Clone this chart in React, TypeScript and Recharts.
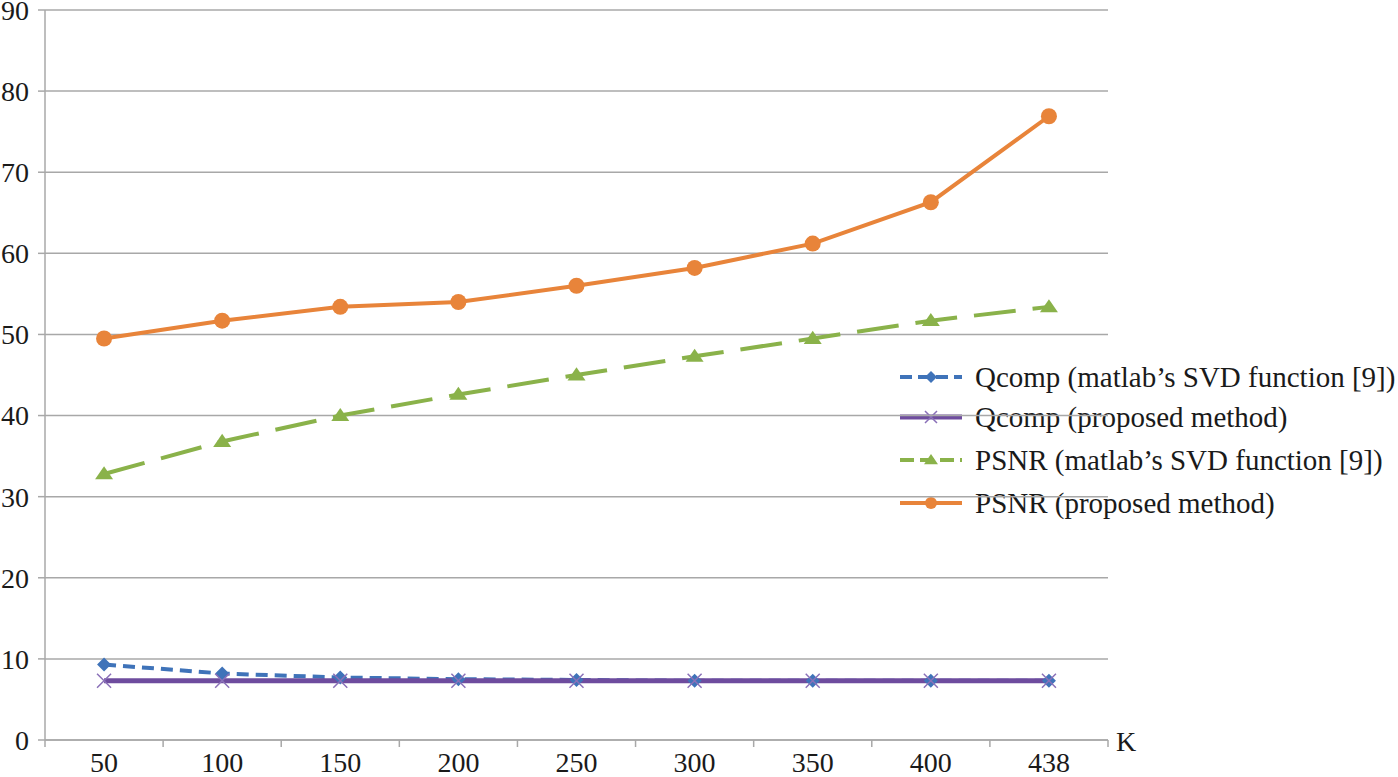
import React from 'react';
import { LineChart, Line, XAxis, YAxis, CartesianGrid } from 'recharts';

const categories = ['50', '100', '150', '200', '250', '300', '350', '400', '438'];
const qcompMatlab = [9.3, 8.2, 7.7, 7.5, 7.4, 7.3, 7.3, 7.3, 7.3];
const qcompProposed = [7.3, 7.3, 7.3, 7.3, 7.3, 7.3, 7.3, 7.3, 7.3];
const psnrMatlab = [32.8, 36.8, 40.0, 42.6, 45.0, 47.3, 49.5, 51.7, 53.4];
const psnrProposed = [49.5, 51.7, 53.4, 54.0, 56.0, 58.2, 61.2, 66.3, 76.9];
const yTicks = [0, 10, 20, 30, 40, 50, 60, 70, 80, 90];

const seriesNames = [
  'Qcomp (matlab\u2019s SVD function [9])',
  'Qcomp (proposed method)',
  'PSNR (matlab\u2019s SVD function [9])',
  'PSNR (proposed method)',
];

const data = categories.map((k, i) => ({
  k,
  qm: qcompMatlab[i],
  qp: qcompProposed[i],
  pm: psnrMatlab[i],
  pp: psnrProposed[i],
}));

const FONT = '"Liberation Serif", "Times New Roman", serif';
const BLUE = '#3F73B9';
const PURPLE = '#6E4C9E';
const GREEN = '#8AB24A';
const ORANGE = '#E8843A';
const GRID = '#A8A8A8';

const W = 1398;
const H = 777;
const M = { top: 10, right: 290, bottom: 0, left: 0 };
const YW = 45;
const XH = 37;
const plotW = W - M.left - M.right - YW;
const band = plotW / categories.length;

const Diamond = ({ cx, cy, color, s = 7 }: any) =>
  cx == null ? null : (
    <path d={`M${cx},${cy - s}L${cx + s},${cy}L${cx},${cy + s}L${cx - s},${cy}Z`} fill={color} />
  );
const Cross = ({ cx, cy, color, s = 7 }: any) =>
  cx == null ? null : (
    <path d={`M${cx - s},${cy - s}L${cx + s},${cy + s}M${cx - s},${cy + s}L${cx + s},${cy - s}`} stroke={color} strokeWidth={1.5} fill="none" />
  );
const Tri = ({ cx, cy, color, s = 9 }: any) =>
  cx == null ? null : (
    <path d={`M${cx},${cy - s * 0.85}L${cx + s},${cy + s * 0.6}L${cx - s},${cy + s * 0.6}Z`} fill={color} />
  );
const Circ = ({ cx, cy, color, r = 8 }: any) =>
  cx == null ? null : <circle cx={cx} cy={cy} r={r} fill={color} />;

const XTick = (props: any) => {
  const { x, y, payload, index } = props;
  const last = index === categories.length - 1;
  return (
    <g>
      <line x1={x - band / 2} y1={y} x2={x - band / 2} y2={y + 7} stroke={GRID} strokeWidth={1.5} />
      {last && <line x1={x + band / 2} y1={y} x2={x + band / 2} y2={y + 7} stroke={GRID} strokeWidth={1.5} />}
      <text x={x} y={y + 22} textAnchor="middle" dominantBaseline="central" fontFamily={FONT} fontSize={28} fill="#1a1a1a">
        {payload.value}
      </text>
    </g>
  );
};

const legendItems = [
  { name: seriesNames[0], color: BLUE, dash: '12 6', width: 4, marker: 'diamond' },
  { name: seriesNames[1], color: PURPLE, dash: undefined, width: 5, marker: 'cross' },
  { name: seriesNames[2], color: GREEN, dash: '14 6', width: 4, marker: 'tri' },
  { name: seriesNames[3], color: ORANGE, dash: undefined, width: 4, marker: 'circle' },
];
const legendRows = [377, 417, 460, 503];

const LegendBox = () => (
  <svg width={W} height={H} style={{ position: 'absolute', left: 0, top: 0 }}>
    {legendItems.map((it, i) => {
      const cy = legendRows[i];
      const cx = 931;
      return (
        <g key={it.name}>
          <line x1={900} y1={cy} x2={962} y2={cy} stroke={it.color} strokeWidth={it.width} strokeDasharray={it.dash} />
          {it.marker === 'diamond' && <Diamond cx={cx} cy={cy} color={it.color} s={6} />}
          {it.marker === 'cross' && <Cross cx={cx} cy={cy} color="#8A70B8" s={6} />}
          {it.marker === 'tri' && <Tri cx={cx} cy={cy} color={it.color} s={7} />}
          {it.marker === 'circle' && <Circ cx={cx} cy={cy} color={it.color} r={6} />}
          <text x={975} y={cy} dominantBaseline="central" fontFamily={FONT} fontSize={29} fill="#1a1a1a">
            {it.name}
          </text>
        </g>
      );
    })}
  </svg>
);

export default function App() {
  return (
    <div style={{ position: 'absolute', left: 0, top: 0, width: W, height: H, background: '#fff' }}>
      <LegendBox />
      <div style={{ position: 'absolute', left: 0, top: 0 }}>
        <LineChart width={W} height={H} data={data} margin={M}>
          <CartesianGrid horizontal vertical={false} stroke={GRID} strokeWidth={1.5} />
          <XAxis
            dataKey="k"
            height={XH}
            padding={{ left: band / 2, right: band / 2 }}
            axisLine={{ stroke: GRID, strokeWidth: 1.5 }}
            tickLine={false}
            tickSize={0}
            tickMargin={0}
            interval={0}
            tick={<XTick />}
            label={{
              content: (p: any) => {
                const vb = p.viewBox || {};
                return (
                  <text x={vb.x + vb.width + 8} y={vb.y + 1} dominantBaseline="central" fontFamily={FONT} fontSize={28} fill="#1a1a1a">
                    K
                  </text>
                );
              },
            }}
          />
          <YAxis
            width={YW}
            domain={[0, 90]}
            ticks={yTicks}
            interval={0}
            axisLine={{ stroke: GRID, strokeWidth: 1.5 }}
            tickLine={{ stroke: GRID, strokeWidth: 1.5 }}
            tickSize={7}
            tickMargin={9}
            tick={{ fontFamily: FONT, fontSize: 28, fill: '#1a1a1a' }}
          />
          <Line
            name={seriesNames[0]}
            dataKey="qm"
            stroke={BLUE}
            strokeWidth={4}
            strokeDasharray="12 7"
            isAnimationActive={false}
            dot={(p: any) => <Diamond key={`qm${p.index}`} cx={p.cx} cy={p.cy} color={BLUE} />}
            activeDot={false}
          />
          <Line
            name={seriesNames[1]}
            dataKey="qp"
            stroke={PURPLE}
            strokeWidth={5}
            isAnimationActive={false}
            dot={(p: any) => <Cross key={`qp${p.index}`} cx={p.cx} cy={p.cy} color="#8A70B8" />}
            activeDot={false}
          />
          <Line
            name={seriesNames[2]}
            dataKey="pm"
            stroke={GREEN}
            strokeWidth={4}
            strokeDasharray="42 17"
            isAnimationActive={false}
            dot={(p: any) => <Tri key={`pm${p.index}`} cx={p.cx} cy={p.cy} color={GREEN} />}
            activeDot={false}
          />
          <Line
            name={seriesNames[3]}
            dataKey="pp"
            stroke={ORANGE}
            strokeWidth={4}
            isAnimationActive={false}
            dot={(p: any) => <Circ key={`pp${p.index}`} cx={p.cx} cy={p.cy} color={ORANGE} />}
            activeDot={false}
          />
        </LineChart>
      </div>
    </div>
  );
}
